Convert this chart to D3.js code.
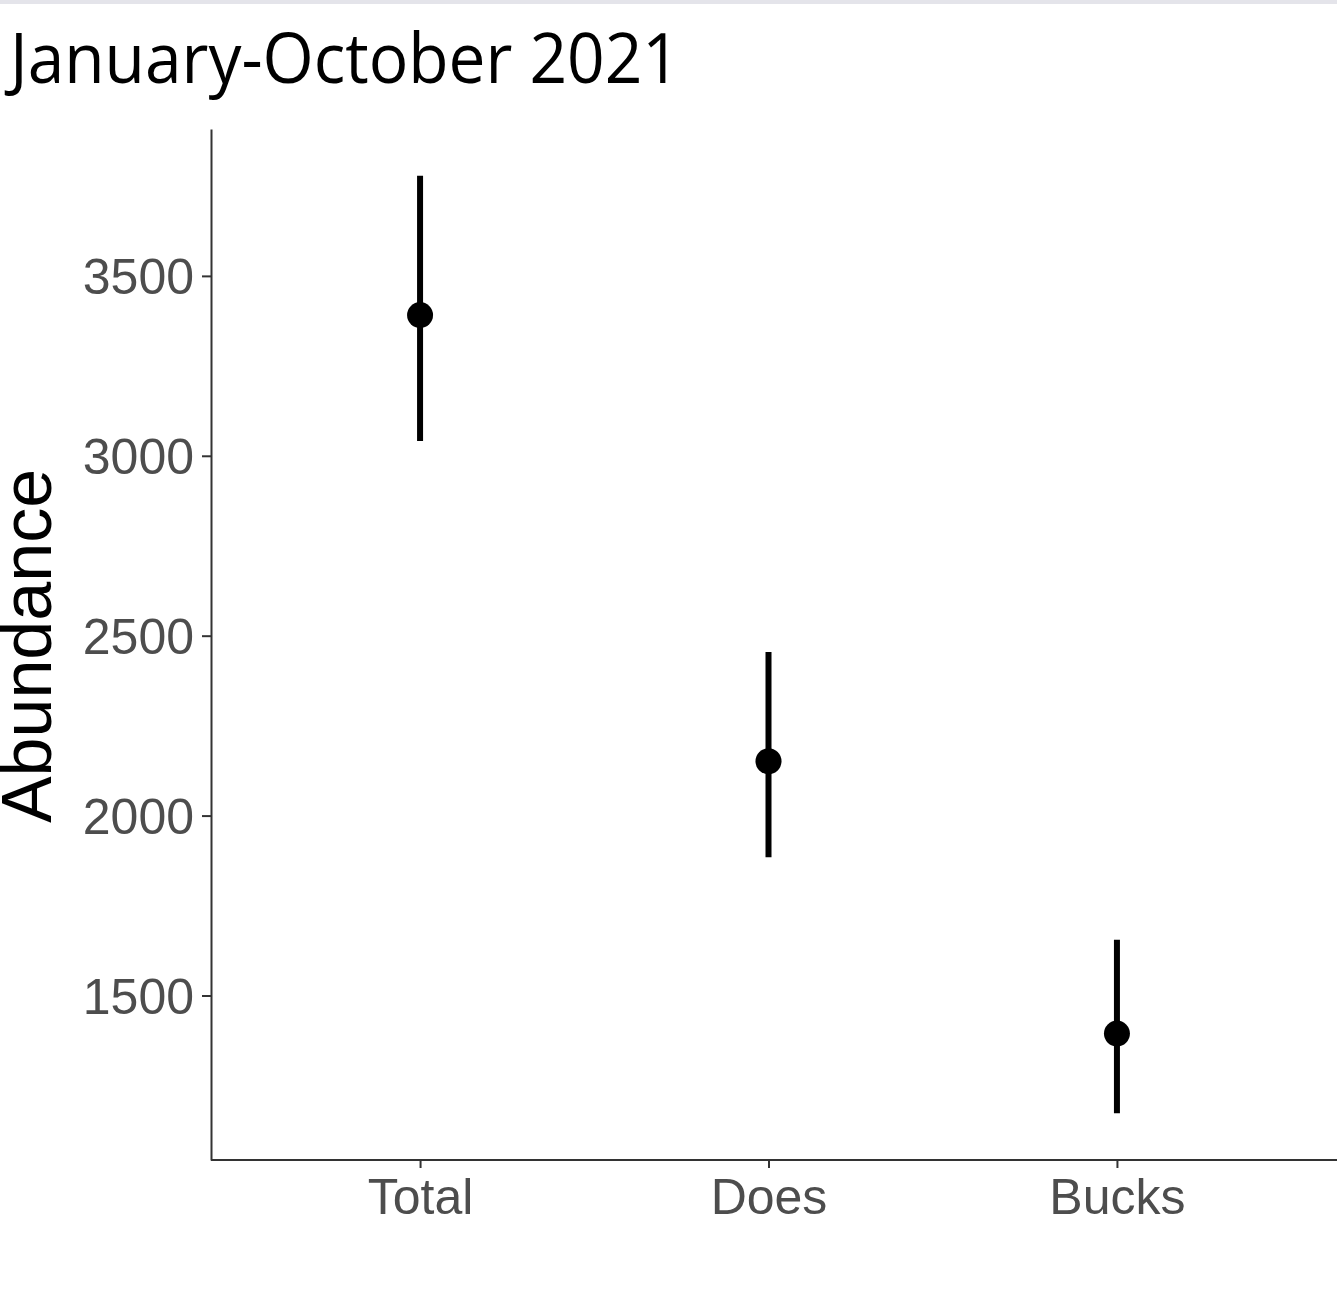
<html>
<head>
	<style>
		body {
			margin: 0;
			padding: 0;
			background: #fff;
		}
		svg {
			display: block;
		}
		.tick text {
			fill: #4d4d4d;
			font-family: "Liberation Sans", Arial, sans-serif;
			font-size: 50px;
		}
		.tick line, .domain {
			stroke: #333;
			stroke-width: 2px;
		}
	</style>
</head>
<body>
	<svg width="1337" height="1313"></svg>
	<script src="https://d3js.org/d3.v7.min.js"></script>
	<script>
		// dati
		var categories = ["Total", "Does", "Bucks"];
		var estimates = [3391, 2151, 1394];
		var lower = [3041, 1884, 1173];
		var upper = [3778, 2455, 1655];
		var yTicks = [1500, 2000, 2500, 3000, 3500];

		var data = categories.map(function(c, i) {
			return { cat: c, est: estimates[i], lo: lower[i], hi: upper[i] };
		});

		var W = 1337, H = 1313;
		var panelLeft = 211, panelRight = 1326, panelTop = 129, panelBottom = 1160;

		var svg = d3.select("svg");

		// striscia grigia in alto
		svg.append("rect")
			.attr("x", 0).attr("y", 0)
			.attr("width", W).attr("height", 4)
			.attr("fill", "#e4e4ea");

		// asse y con espansione del 5% come ggplot
		var lo = d3.min(lower), hi = d3.max(upper);
		var pad = (hi - lo) * 0.05;
		var y = d3.scaleLinear()
			.domain([lo - pad, hi + pad])
			.range([panelBottom, panelTop]);

		var x = d3.scalePoint()
			.domain(categories)
			.range([panelLeft, panelRight])
			.padding(0.6);

		var yAxis = svg.append("g")
			.attr("transform", "translate(" + panelLeft + ",0)")
			.call(d3.axisLeft(y).tickValues(yTicks).tickFormat(d3.format("d"))
				.tickSize(9).tickPadding(8).tickSizeOuter(0));

		yAxis.selectAll(".tick text").attr("dy", "0.36em");

		var xAxis = svg.append("g")
			.attr("transform", "translate(0," + panelBottom + ")")
			.call(d3.axisBottom(x).tickSize(8).tickPadding(10).tickSizeOuter(0));

		// la linea dell'asse x arriva al bordo destro
		xAxis.select(".domain").attr("d", "M" + panelLeft + ",0H" + W);

		// barre d'errore
		svg.selectAll(".err")
			.data(data)
			.enter()
			.append("line")
			.attr("class", "err")
			.attr("x1", function(d) { return x(d.cat); })
			.attr("x2", function(d) { return x(d.cat); })
			.attr("y1", function(d) { return y(d.lo); })
			.attr("y2", function(d) { return y(d.hi); })
			.attr("stroke", "#000")
			.attr("stroke-width", 6);

		// punti
		svg.selectAll(".pt")
			.data(data)
			.enter()
			.append("circle")
			.attr("class", "pt")
			.attr("cx", function(d) { return x(d.cat); })
			.attr("cy", function(d) { return y(d.est); })
			.attr("r", 13)
			.attr("fill", "#000");

		// titolo asse y
		svg.append("text")
			.attr("transform", "translate(51,646) rotate(-90)")
			.attr("text-anchor", "middle")
			.style("font-family", "'Liberation Sans', Arial, sans-serif")
			.style("font-size", "70px")
			.attr("fill", "#000")
			.text("Abundance");

		// titolo
		svg.append("text")
			.attr("x", 10)
			.attr("y", 83)
			.attr("textLength", 670)
			.attr("lengthAdjust", "spacingAndGlyphs")
			.style("font-family", "'Open Sans', sans-serif")
			.style("font-size", "70px")
			.attr("fill", "#000")
			.text("January-October 2021");
	</script>
</body>
</html>
